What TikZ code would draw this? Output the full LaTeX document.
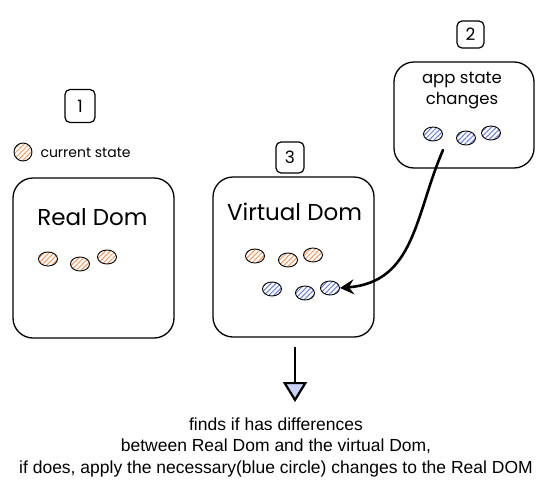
\documentclass[tikz,border=0pt]{standalone}
\usepackage{fontspec}
\setmainfont{Liberation Sans}
\newfontfamily\sketchfont{Poppins}
\usetikzlibrary{shapes.geometric,arrows.meta,patterns.meta}
\definecolor{hatchorange}{RGB}{250,150,90}
\definecolor{hatchblue}{RGB}{105,125,230}

\begin{document}
\begin{tikzpicture}[x=1pt,y=-1pt]
    \tikzset{bigbox/.style = {draw, line width=1.3pt, rounded corners=20pt, minimum width=161pt, minimum height=160pt, inner sep=0pt}}
    \tikzset{numbox/.style = {draw, line width=1.2pt, rounded corners=5pt, minimum width=28pt, minimum height=30pt, inner sep=0pt, font=\sketchfont\fontsize{17}{17}\selectfont}}
    \tikzset{oldstate/.style = {shape=ellipse, draw, line width=0.9pt, minimum width=19pt, minimum height=14pt, inner sep=0pt, pattern={Lines[angle=45,distance=3.5pt,line width=1pt]}, pattern color=hatchorange}}
    \tikzset{newstate/.style = {oldstate, pattern color=hatchblue}}
    \tikzset{title/.style = {font=\sketchfont\fontsize{23}{23}\selectfont}}
    \tikzset{small/.style = {font=\sketchfont\fontsize{16.5}{21}\selectfont, align=center}}
    \useasboundingbox (0,0) rectangle (554,490);

    % boxes
    \node[bigbox] (real) at (93.5,258) {};
    \node[bigbox] (virtual) at (293.5,257) {};
    \node[bigbox, minimum width=140pt, minimum height=106pt] (app) at (464,115) {};
    \node[numbox, minimum width=30pt, minimum height=33pt] (n1) at (80,106) {1};
    \node[numbox, minimum width=27pt, minimum height=27pt] (n2) at (470.5,34.5) {2};
    \node[numbox, minimum height=31pt] (n3) at (290,157.5) {3};

    % labels
    \node[title] (reallabel) at (92.5,217) {Real Dom};
    \node[title] (virtuallabel) at (294.5,212) {Virtual Dom};
    \node[small] (applabel) at (462,91) {app state\\changes};
    \node[oldstate, minimum width=18pt, minimum height=18pt] (key) at (23,152) {};
    \node[font=\sketchfont\fontsize{14}{14}\selectfont, anchor=west] (keylabel) at (37,153) {current state};

    % states
    \node[oldstate] (r1) at (48,259) {};
    \node[oldstate] (r2) at (80,264) {};
    \node[oldstate] (r3) at (107,257) {};
    \node[oldstate] (v1) at (255,256) {};
    \node[oldstate] (v2) at (288,260) {};
    \node[oldstate] (v3) at (313,255) {};
    \node[newstate] (v4) at (272,289) {};
    \node[newstate] (v5) at (305,293) {};
    \node[newstate] (v6) at (330,288) {};
    \node[newstate] (a1) at (433,134) {};
    \node[newstate] (a2) at (466,138) {};
    \node[newstate] (a3) at (491,133) {};

    % result
    \node[font=\fontsize{17.5}{21.5}\selectfont, align=center] (result) at (276,447)
        {finds if has differences\\between Real Dom and the virtual Dom,\\if does, apply the necessary(blue circle) changes to the Real DOM};

    % arrows
    \coordinate (start) at (443,150);
    \coordinate (down) at (295,347);
    \coordinate (tip) at (295,402);
    \draw[line width=2.6pt, line cap=round, -{Stealth[length=14pt,width=15pt,inset=5pt]}]
        (start) .. controls (415,215) and (415,282) .. (v6.east);
    \draw[line width=2.2pt, -{Triangle[length=20pt,width=24pt,fill=hatchblue!35]}]
        (down) -- (tip);
\end{tikzpicture}
\end{document}
